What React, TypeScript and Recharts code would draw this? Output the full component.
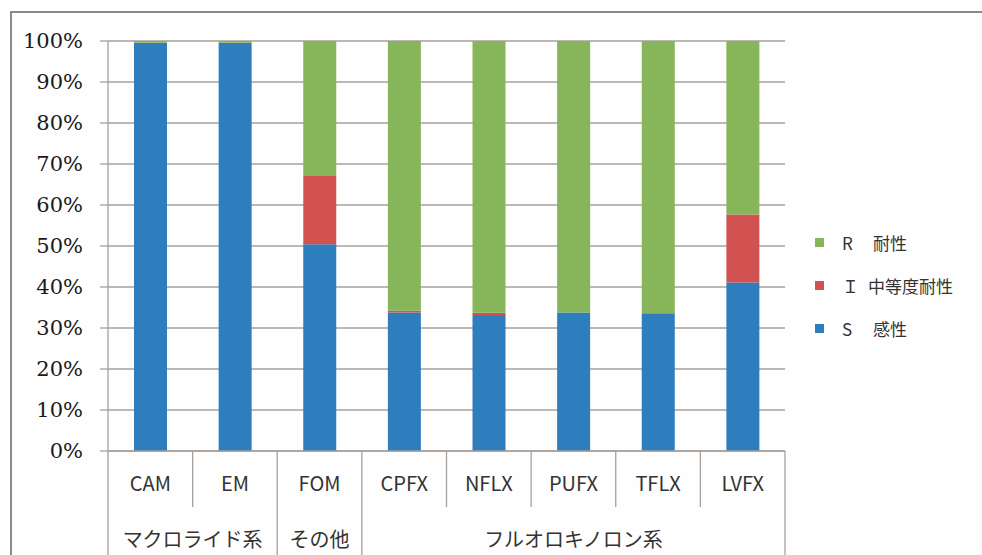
import React from "react";
import { BarChart, Bar, XAxis, YAxis, CartesianGrid, Legend } from "recharts";

// Antimicrobial susceptibility breakdown (%) per drug
const drugs = ["CAM", "EM", "FOM", "CPFX", "NFLX", "PUFX", "TFLX", "LVFX"];
const susceptible = [99.6, 99.6, 50.4, 33.8, 33.2, 33.8, 33.6, 41.1];
const intermediate = [0, 0, 16.7, 0.4, 0.5, 0, 0, 16.6];
const resistant = [0.4, 0.4, 32.9, 65.8, 66.3, 66.2, 66.4, 42.3];

// Drug class groups shown on the second axis row
const groupNames = ["マクロライド系", "その他", "フルオロキノロン系"];
const groupSizes = [2, 1, 5];

const yTicks = [0, 10, 20, 30, 40, 50, 60, 70, 80, 90, 100];

const legendItems = [
  { key: "R", code: "R", label: "耐性", color: "#86b55a" },
  { key: "I", code: "Ｉ", label: "中等度耐性", color: "#d25252" },
  { key: "S", code: "S", label: "感性", color: "#2e7dbd" },
];

const data = drugs.map((name, i) => ({
  name,
  S: susceptible[i],
  I: intermediate[i],
  R: resistant[i],
}));

const GRID = "#a8a09b";
const SANS = "Noto Sans CJK JP";
const SERIF = "DejaVu Serif";
const AXIS_H = 104;
const FALLBACK_BAND = 677 / drugs.length;

// index of the first category in each group
const groupStarts: number[] = [];
{
  let acc = 0;
  for (const s of groupSizes) {
    groupStarts.push(acc);
    acc += s;
  }
}

const CategoryTick = (props: any) => {
  const { x, y, payload, index } = props;
  const band =
    payload && typeof payload.offset === "number" && payload.offset > 1
      ? payload.offset * 2
      : FALLBACK_BAND;
  const left = x - band / 2;
  const gi = groupStarts.indexOf(index);
  const isGroupStart = gi >= 0;
  const isLast = index === drugs.length - 1;
  return (
    <g>
      <line
        x1={left}
        x2={left}
        y1={y}
        y2={y + (isGroupStart ? AXIS_H : 56)}
        stroke={GRID}
        strokeWidth={1.3}
      />
      {isLast && (
        <line
          x1={x + band / 2}
          x2={x + band / 2}
          y1={y}
          y2={y + AXIS_H}
          stroke={GRID}
          strokeWidth={1.3}
        />
      )}
      <text
        x={x}
        y={y + 31}
        textAnchor="middle"
        dominantBaseline="central"
        fill="#333"
        fontSize={20}
        fontFamily={SANS}
      >
        {payload.value}
      </text>
      {isGroupStart && (
        <text
          x={left + (groupSizes[gi] * band) / 2}
          y={y + 87}
          textAnchor="middle"
          dominantBaseline="central"
          fill="#333"
          fontSize={20}
          fontFamily={SANS}
        >
          {groupNames[gi]}
        </text>
      )}
    </g>
  );
};

const PercentTick = (props: any) => {
  const { x, y, payload } = props;
  return (
    <text
      x={x}
      y={y}
      textAnchor="end"
      dominantBaseline="central"
      fill="#1a1a1a"
      fontSize={21}
      fontFamily={SERIF}
    >
      {`${payload.value}%`}
    </text>
  );
};

const renderLegend = () => (
  <div style={{ fontFamily: SANS, fontSize: 17, color: "#333" }}>
    {legendItems.map((it) => (
      <div
        key={it.key}
        style={{
          display: "flex",
          alignItems: "center",
          height: 43,
          whiteSpace: "pre",
        }}
      >
        <span
          style={{
            display: "inline-block",
            flexShrink: 0,
            width: 9,
            height: 9,
            background: it.color,
            marginLeft: 30,
            marginRight: 18,
          }}
        />
        <span
          style={{
            display: "inline-block",
            flexShrink: 0,
            width: it.key === "I" ? 26 : 31,
          }}
        >
          {it.code}
        </span>
        <span style={{ flexShrink: 0 }}>{it.label}</span>
      </div>
    ))}
  </div>
);

export default function App() {
  return (
    <div
      style={{
        position: "absolute",
        left: 0,
        top: 0,
        width: 982,
        height: 555,
        background: "#ffffff",
        overflow: "hidden",
      }}
    >
      <div
        style={{
          position: "absolute",
          left: 10,
          top: 11,
          width: 1000,
          height: 600,
          borderTop: "2px solid #8a8a8a",
          borderLeft: "2px solid #8a8a8a",
          background: "#fefefe",
        }}
      />
      <div style={{ position: "absolute", left: 0, top: 0 }}>
        <BarChart
          width={982}
          height={555}
          data={data}
          margin={{ top: 41, right: 7, bottom: 0, left: 18 }}
        >
          <CartesianGrid vertical={false} stroke={GRID} strokeWidth={1.3} />
          <XAxis
            dataKey="name"
            height={AXIS_H}
            interval={0}
            tickLine={false}
            tickSize={0}
            tickMargin={0}
            axisLine={{ stroke: GRID, strokeWidth: 1.3 }}
            tick={<CategoryTick />}
          />
          <YAxis
            width={90}
            domain={[0, 100]}
            ticks={yTicks}
            interval={0}
            tickSize={8}
            tickMargin={17}
            axisLine={{ stroke: GRID, strokeWidth: 1.3 }}
            tickLine={{ stroke: GRID, strokeWidth: 1.3 }}
            tick={<PercentTick />}
          />
          <Legend
            layout="vertical"
            align="right"
            verticalAlign="middle"
            width={190}
            content={renderLegend}
            wrapperStyle={{ top: 221 }}
          />
          <Bar dataKey="S" name="S 感性" stackId="a" fill="#2e7dbd" barSize={33} isAnimationActive={false} />
          <Bar dataKey="I" name="Ｉ 中等度耐性" stackId="a" fill="#d25252" barSize={33} isAnimationActive={false} />
          <Bar dataKey="R" name="R 耐性" stackId="a" fill="#86b55a" barSize={33} isAnimationActive={false} />
        </BarChart>
      </div>
    </div>
  );
}
